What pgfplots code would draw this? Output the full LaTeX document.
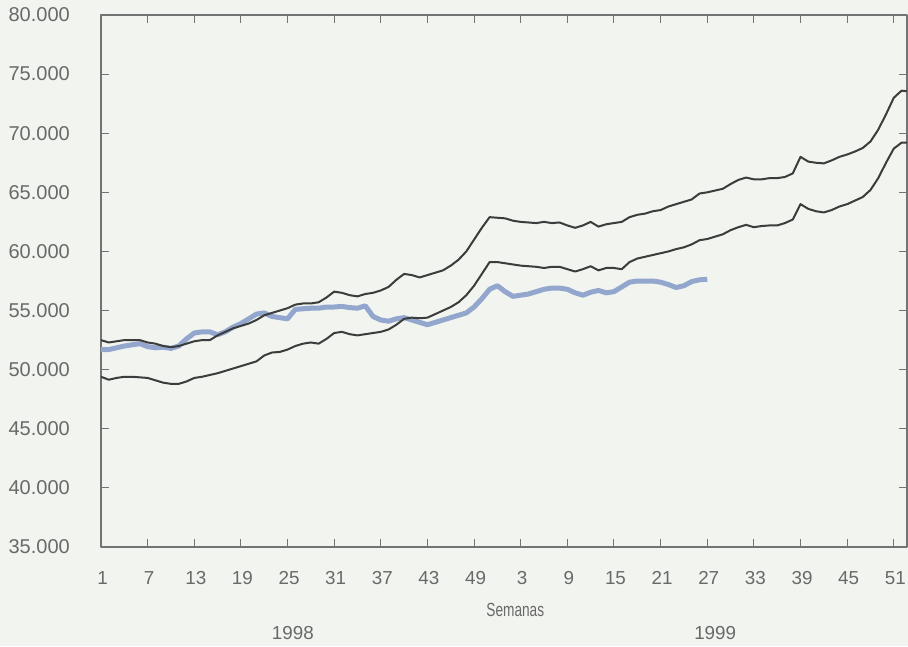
\documentclass[border=0pt]{standalone}
\usepackage{fontspec}
\setmainfont{Liberation Sans}
\newfontfamily\condfont{Liberation Sans}[FakeStretch=0.72]
\usepackage{pgfplots}
\usepackage{pgfplotstable}
\pgfplotsset{compat=1.18}
\definecolor{bgcol}{RGB}{241,244,239}
\definecolor{txtcol}{RGB}{105,105,105}
\definecolor{axcol}{RGB}{115,115,115}
\definecolor{darkline}{RGB}{60,60,60}
\definecolor{blueline}{RGB}{146,166,206}

\pgfplotstableread{
i v
1 52.5
2 52.3
3 52.4
4 52.5
5 52.5
6 52.5
7 52.3
8 52.2
9 52.0
10 51.9
11 52.0
12 52.2
13 52.4
14 52.5
15 52.5
16 52.9
17 53.2
18 53.5
19 53.7
20 53.9
21 54.2
22 54.6
23 54.8
24 55.0
25 55.2
26 55.5
27 55.6
28 55.6
29 55.7
30 56.1
31 56.6
32 56.5
33 56.3
34 56.2
35 56.4
36 56.5
37 56.7
38 57.0
39 57.6
40 58.1
41 58.0
42 57.8
43 58.0
44 58.2
45 58.4
46 58.8
47 59.3
48 60.0
49 61.0
50 62.0
51 62.9
52 62.85
53 62.8
54 62.6
55 62.5
56 62.45
57 62.4
58 62.5
59 62.4
60 62.45
61 62.2
62 62.0
63 62.2
64 62.5
65 62.1
66 62.3
67 62.4
68 62.5
69 62.9
70 63.1
71 63.2
72 63.4
73 63.5
74 63.8
75 64.0
76 64.2
77 64.4
78 64.9
79 65.0
80 65.15
81 65.3
82 65.7
83 66.05
84 66.25
85 66.1
86 66.1
87 66.2
88 66.2
89 66.3
90 66.6
91 68.0
92 67.6
93 67.5
94 67.45
95 67.7
96 68.0
97 68.2
98 68.45
99 68.75
100 69.3
101 70.3
102 71.6
103 73.0
104 73.6
104.7 73.55
}\tabUpper

\pgfplotstableread{
i v
1 49.4
2 49.15
3 49.3
4 49.4
5 49.4
6 49.35
7 49.3
8 49.1
9 48.9
10 48.8
11 48.8
12 49.0
13 49.3
14 49.4
15 49.55
16 49.7
17 49.9
18 50.1
19 50.3
20 50.5
21 50.7
22 51.2
23 51.45
24 51.5
25 51.7
26 52.0
27 52.2
28 52.3
29 52.2
30 52.6
31 53.1
32 53.2
33 53.0
34 52.9
35 53.0
36 53.1
37 53.2
38 53.4
39 53.8
40 54.3
41 54.4
42 54.35
43 54.4
44 54.7
45 55.0
46 55.3
47 55.7
48 56.3
49 57.1
50 58.1
51 59.1
52 59.1
53 59.0
54 58.9
55 58.8
56 58.75
57 58.7
58 58.6
59 58.7
60 58.7
61 58.5
62 58.3
63 58.5
64 58.75
65 58.4
66 58.6
67 58.6
68 58.5
69 59.1
70 59.4
71 59.55
72 59.7
73 59.85
74 60.0
75 60.2
76 60.35
77 60.6
78 60.95
79 61.05
80 61.25
81 61.45
82 61.8
83 62.05
84 62.25
85 62.05
86 62.15
87 62.2
88 62.2
89 62.4
90 62.7
91 64.0
92 63.6
93 63.4
94 63.3
95 63.5
96 63.8
97 64.0
98 64.3
99 64.6
100 65.2
101 66.2
102 67.5
103 68.7
104 69.2
104.7 69.2
}\tabLower

\pgfplotstableread{
i v
1 51.7
2 51.7
3 51.85
4 52.0
5 52.1
6 52.2
7 51.95
8 51.85
9 51.9
10 51.8
11 52.0
12 52.6
13 53.1
14 53.2
15 53.2
16 52.95
17 53.2
18 53.6
19 53.9
20 54.3
21 54.7
22 54.8
23 54.5
24 54.4
25 54.3
26 55.1
27 55.15
28 55.2
29 55.2
30 55.3
31 55.3
32 55.35
33 55.25
34 55.2
35 55.4
36 54.5
37 54.2
38 54.1
39 54.3
40 54.4
41 54.2
42 54.0
43 53.8
44 54.0
45 54.2
46 54.4
47 54.6
48 54.8
49 55.3
50 56.0
51 56.8
52 57.1
53 56.6
54 56.2
55 56.3
56 56.4
57 56.6
58 56.8
59 56.9
60 56.9
61 56.8
62 56.5
63 56.3
64 56.55
65 56.7
66 56.5
67 56.6
68 57.0
69 57.4
70 57.5
71 57.5
72 57.5
73 57.4
74 57.2
75 56.95
76 57.1
77 57.45
78 57.6
79 57.65
}\tabBlue

\begin{document}
\begin{tikzpicture}
\path[use as bounding box, fill=bgcol] (-101pt,-99pt) rectangle (807pt,547pt);
\begin{axis}[
  scale only axis, width=806pt, height=532pt,
  xmin=1, xmax=104.7, ymin=35, ymax=80,
  axis line style={axcol, line width=1.3pt},
  tick style={axcol, line width=1pt},
  tick align=inside, major tick length=8pt,
  xtick={1,7,...,103},
  xticklabels={1,7,13,19,25,31,37,43,49,3,9,15,21,27,33,39,45,51},
  ytick={35,40,...,80},
  yticklabels={35.000,40.000,45.000,50.000,55.000,60.000,65.000,70.000,75.000,80.000},
  ticklabel style={text=txtcol, inner sep=0pt},
  yticklabel style={font=\fontsize{20}{24}\selectfont, xshift=-31pt},
  xticklabel style={font=\fontsize{18.8}{22}\selectfont, yshift=-24pt, xshift=1.5pt},
  clip mode=individual,
  line join=round,
]
\addplot[blueline, line width=5pt] table[x=i, y=v] {\tabBlue};
\addplot[darkline, line width=2pt] table[x=i, y=v] {\tabUpper};
\addplot[darkline, line width=2pt] table[x=i, y=v] {\tabLower};
\node[font=\condfont\fontsize{19}{22}\selectfont, text=txtcol] at (rel axis cs:0.514,-0.118) {Semanas};
\node[font=\fontsize{18.8}{22}\selectfont, text=txtcol] at (rel axis cs:0.238,-0.1617) {1998};
\node[font=\fontsize{18.8}{22}\selectfont, text=txtcol] at (rel axis cs:0.762,-0.1617) {1999};
\end{axis}
\end{tikzpicture}
\end{document}
